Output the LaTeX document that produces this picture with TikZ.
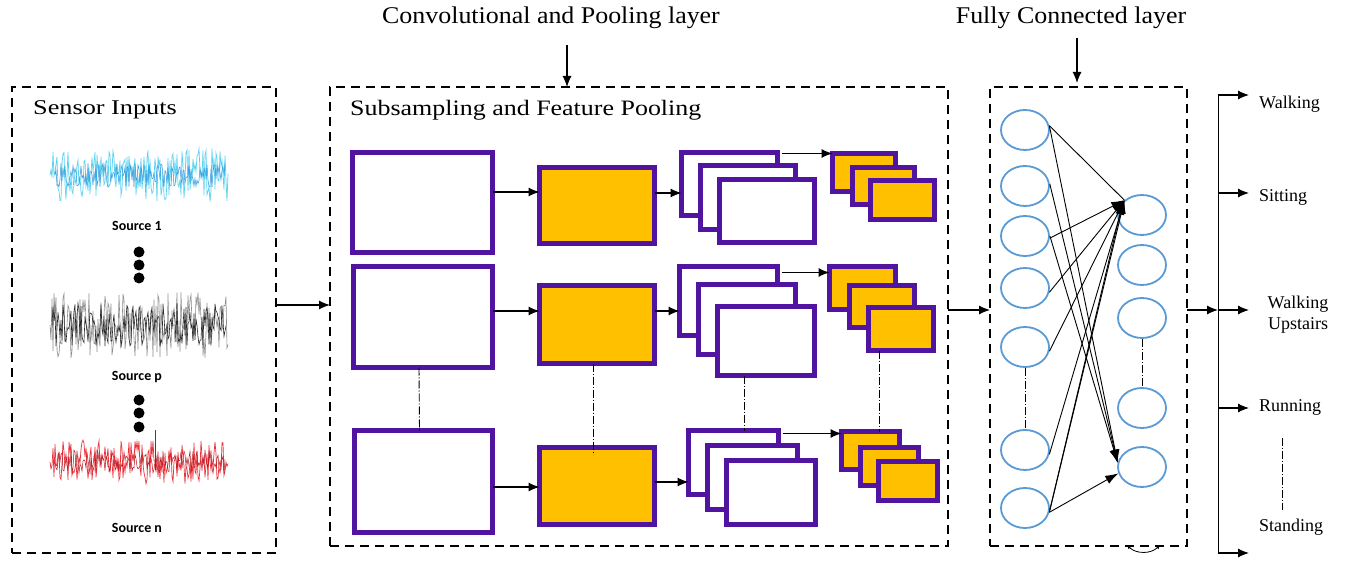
\documentclass[tikz,border=0pt]{standalone}
\usepackage{fontspec}
\setmainfont{Liberation Serif}
\newfontfamily\srcfont{Carlito}
\usetikzlibrary{arrows.meta,calc,shapes.geometric}
\definecolor{pur}{RGB}{80,20,160}
\definecolor{org}{RGB}{255,192,0}
\definecolor{cir}{RGB}{91,155,213}
\definecolor{sigc}{RGB}{90,210,240}
\definecolor{sigb}{RGB}{40,150,220}
\definecolor{sigk}{RGB}{40,40,40}
\definecolor{sigg}{RGB}{140,140,140}
\definecolor{sigr}{RGB}{235,50,60}
\definecolor{sigd}{RGB}{180,20,30}
\newcommand\mybox[6]{\node[#1,minimum width={(#4)-(#2)},minimum height={(#5)-(#3)}] (#6) at ({((#2)+(#4))/2},{((#3)+(#5))/2}) {};}
\newcommand\pbx[6]{\mybox{#1}{#2+2.5}{#3+2.5}{#4-2.5}{#5-2.5}{#6}}
\tikzset{
  pbox/.style={draw=pur,line width=5pt,fill=white,inner sep=0pt,outer sep=0pt},
  obox/.style={pbox,fill=org},
  dbox/.style={draw=black,line width=2.8pt,dash pattern=on 9pt off 6pt,inner sep=0pt,outer sep=0pt},
  arr/.style={-{Latex[length=11pt,width=9pt]},line width=1.1pt},
  farr/.style={-{Latex[length=13pt,width=9pt]},line width=0.9pt},
  dd/.style={dash pattern=on 8pt off 2pt on 1pt off 2pt,line width=0.9pt},
  neuron/.style={ellipse,draw=cir,line width=1.8pt,minimum width=48pt,minimum height=40pt,inner sep=0pt},
  lab/.style={font=\fontsize{18}{21}\selectfont,inner sep=0pt},
  src/.style={font=\srcfont\bfseries\fontsize{14}{16}\selectfont,inner sep=0pt},
}
\begin{document}
\begin{tikzpicture}[x=1pt,y=-1pt]
\useasboundingbox[fill=white] (0,0) rectangle (1349,561);
\pgfmathsetseed{12345}
% titles
\node[font=\fontsize{24}{28}\selectfont,inner sep=0pt] (t1) at (551,18) {\scalebox{1.08}[1]{Convolutional and Pooling layer}};
\node[font=\fontsize{24}{28}\selectfont,inner sep=0pt] (t2) at (1071,18) {\scalebox{1.08}[1]{Fully Connected layer}};
% dashed boxes
\mybox{dbox}{12}{87}{276}{553}{inbox}
\mybox{dbox}{330}{87}{948}{546}{mid}
\mybox{dbox}{990}{87}{1187}{546}{fc}
\coordinate (a1) at (567,45);
\coordinate (a2) at (1077,38);
\draw[arr] (a1) -- (a1 |- mid.north);
\draw[arr] (a2) -- ([yshift=4pt]a2 |- fc.north);
% sensor inputs
\node[anchor=west,font=\fontsize{21}{24}\selectfont,inner sep=0pt] (sin) at (33,110) {\scalebox{1.25}[1]{Sensor Inputs}};
\draw[sigc,line width=0.7pt] (50,175) \foreach \i in {1,...,178}{ -- ({50+\i},{175+27*rand}) };
\draw[sigb,line width=0.5pt] (55,175) \foreach \i in {1,...,170}{ -- ({55+\i},{175+12*rand}) };
\node[src] (so1) at (137,226) {Source 1};
\foreach \yy in {252,265,278} \fill (139,\yy) circle (5.5pt);
\draw[sigg,line width=0.6pt] (50,325) \foreach \i in {1,...,178}{ -- ({50+\i},{325+33*rand}) };
\draw[sigk,line width=0.6pt] (52,325) \foreach \i in {1,...,174}{ -- ({52+\i},{325+22*rand}) };
\node[src] (so2) at (137,377) {Source p};
\foreach \yy in {400,413,427} \fill (139,\yy) circle (5.5pt);
\draw[sigr,line width=0.7pt] (50,462) \foreach \i in {1,...,178}{ -- ({50+\i},{462+22*rand}) };
\draw[sigd,line width=0.5pt] (55,462) \foreach \i in {1,...,170}{ -- ({55+\i},{462+12*rand}) };
\draw[sigd,line width=0.8pt] (155,470) -- (155,430);
\node[src] (so3) at (137,528) {Source n};
% middle panel
\node[anchor=west,font=\fontsize{22}{25}\selectfont,inner sep=0pt] (sub) at (350,110) {\scalebox{1.18}[1]{Subsampling and Feature Pooling}};
% row 1
\pbx{pbox}{350}{150}{495}{255}{b1}
\pbx{obox}{537}{165}{657}{246}{o1}
\pbx{pbox}{679}{150}{780}{218}{s1a}
\pbx{pbox}{698}{163}{798}{232}{s1b}
\pbx{pbox}{717}{177}{817}{245}{s1c}
\pbx{obox}{830}{151}{898}{194}{p1a}
\pbx{obox}{850}{165}{917}{207}{p1b}
\pbx{obox}{868}{178}{937}{222}{p1c}
% row 2
\pbx{pbox}{351}{264}{495}{370}{b2}
\pbx{obox}{537}{283}{657}{366}{o2}
\pbx{pbox}{677}{264}{780}{338}{s2a}
\pbx{pbox}{696}{282}{798}{357}{s2b}
\pbx{pbox}{715}{304}{817}{378}{s2c}
\pbx{obox}{827}{264}{898}{312}{p2a}
\pbx{obox}{847}{283}{917}{330}{p2b}
\pbx{obox}{866}{305}{936}{353}{p2c}
% row 3
\pbx{pbox}{352}{428}{495}{535}{b3}
\pbx{obox}{537}{445}{657}{527}{o3}
\pbx{pbox}{686}{428}{781}{497}{s3a}
\pbx{pbox}{705}{443}{800}{512}{s3b}
\pbx{pbox}{724}{458}{818}{527}{s3c}
\pbx{obox}{839}{429}{902}{472}{p3a}
\pbx{obox}{858}{445}{921}{488}{p3b}
\pbx{obox}{876}{459}{940}{503}{p3c}
% row arrows
\draw[arr] ([yshift=10.5pt]b1.east) -- ([yshift=10.5pt]b1.east -| o1.west);
\draw[arr] ([yshift=12.5pt]o1.east) -- ([yshift=12.5pt]o1.east -| s1a.west);
\draw[arr] ([xshift=4pt,yshift=-1pt]s1a.north east) -- ([yshift=-1pt]s1a.north east -| p1a.west);
\draw[arr] ([yshift=6pt]b2.east) -- ([yshift=6pt]b2.east -| o2.west);
\draw[arr] ([yshift=13.5pt]o2.east) -- ([yshift=13.5pt]o2.east -| s2a.west);
\draw[arr] ([xshift=4pt,yshift=-6pt]s2a.north east) -- ([yshift=-6pt]s2a.north east -| p2a.west);
\draw[arr] ([yshift=-5.5pt]b3.east) -- ([yshift=-5.5pt]b3.east -| o3.west);
\draw[arr] ([yshift=4pt]o3.east) -- ([yshift=4pt]o3.east -| s3a.west);
\draw[arr] ([xshift=4pt,yshift=-3pt]s3a.north east) -- ([yshift=-3pt]s3a.north east -| p3a.west);
% dash-dot continuation lines
\draw[dd] ([xshift=-4pt]b2.south) -- ([xshift=-4pt]b3.north);
\draw[dd] ([xshift=-4pt]o2.south) -- ([xshift=-4pt,yshift=-7pt]o3.north);
\draw[dd] ($(s3a.north |- s2c.south)+(11,0)$) -- ($(s3a.north)+(11,0)$);
\draw[dd] ($(p3a.north |- p2c.south)+(9,0)$) -- ($(p3a.north)+(9,0)$);
% panel connectors
\draw[arr] ([yshift=15pt]inbox.east) -- ([yshift=15pt]inbox.east -| mid.west);
\draw[arr] ([yshift=6.5pt]mid.east) -- ([yshift=6.5pt]mid.east -| fc.west);
% fully connected
\foreach \n/\yy in {1/130,2/186,3/236,4/288,5/347,6/450,7/508} \node[neuron] (l\n) at (1025,\yy) {};
\foreach \n/\yy in {1/215,2/265,3/318,4/408,5/467} \node[neuron] (r\n) at (1142,\yy) {};
\draw[dd] (l5.south) -- (l6.north);
\draw[dd] (r3.south) -- (r4.north);
\draw[line width=0.9pt] (l1.10) -- (r1.140);
\draw[farr] (l1.10) -- (r5.170);
\draw[farr] (l2.5) -- (r5.170);
\draw[farr] (l3.0) -- (r5.170);
\draw[farr] (l3.355) -- (r1.140);
\draw[farr] (l4.350) -- (r1.140);
\draw[farr] (l5.350) -- (r1.140);
\draw[farr] (l6.350) -- (r1.140);
\draw[farr] (l7.350) -- (r1.140);
\draw[farr] (l7.355) -- (r1.145);
\draw[farr] (l7.350) -- (r5.195);
\coordinate (ca) at (1127,545);
\coordinate (cb) at (1160,545);
\draw[{Latex[length=4pt,width=4pt]}-{Latex[length=4pt,width=4pt]},line width=0.8pt] (ca) to[bend right=45] (cb);
% outputs
\coordinate (j1) at (1218,95);
\coordinate (j2) at (1218,193);
\coordinate (j3) at (1218,310);
\coordinate (j4) at (1218,408);
\coordinate (j5) at (1218,553);
\coordinate (e1) at (1249,95);
\coordinate (e2) at (1249,193);
\coordinate (e3) at (1249,310);
\coordinate (e4) at (1249,408);
\coordinate (e5) at (1249,553);
\draw[arr] ([yshift=6.5pt]fc.east) -- ([yshift=6.5pt]fc.east -| j3);
\draw[line width=1pt] (j1) -- (j5);
\foreach \k in {1,...,5} \draw[arr] (j\k) -- (e\k);
\node[lab,anchor=west] (out1) at (1259,104) {Walking};
\node[lab,anchor=west] (out2) at (1259,197) {Sitting};
\node[lab,align=center] (out3) at (1298,315) {Walking\\Upstairs};
\node[lab,anchor=west] (out4) at (1259,407) {Running};
\node[lab,anchor=west] (out5) at (1259,527) {Standing};
\coordinate (d1) at (1282,438);
\coordinate (d2) at (1282,510);
\draw[dd] (d1) -- (d2);
\end{tikzpicture}
\end{document}
